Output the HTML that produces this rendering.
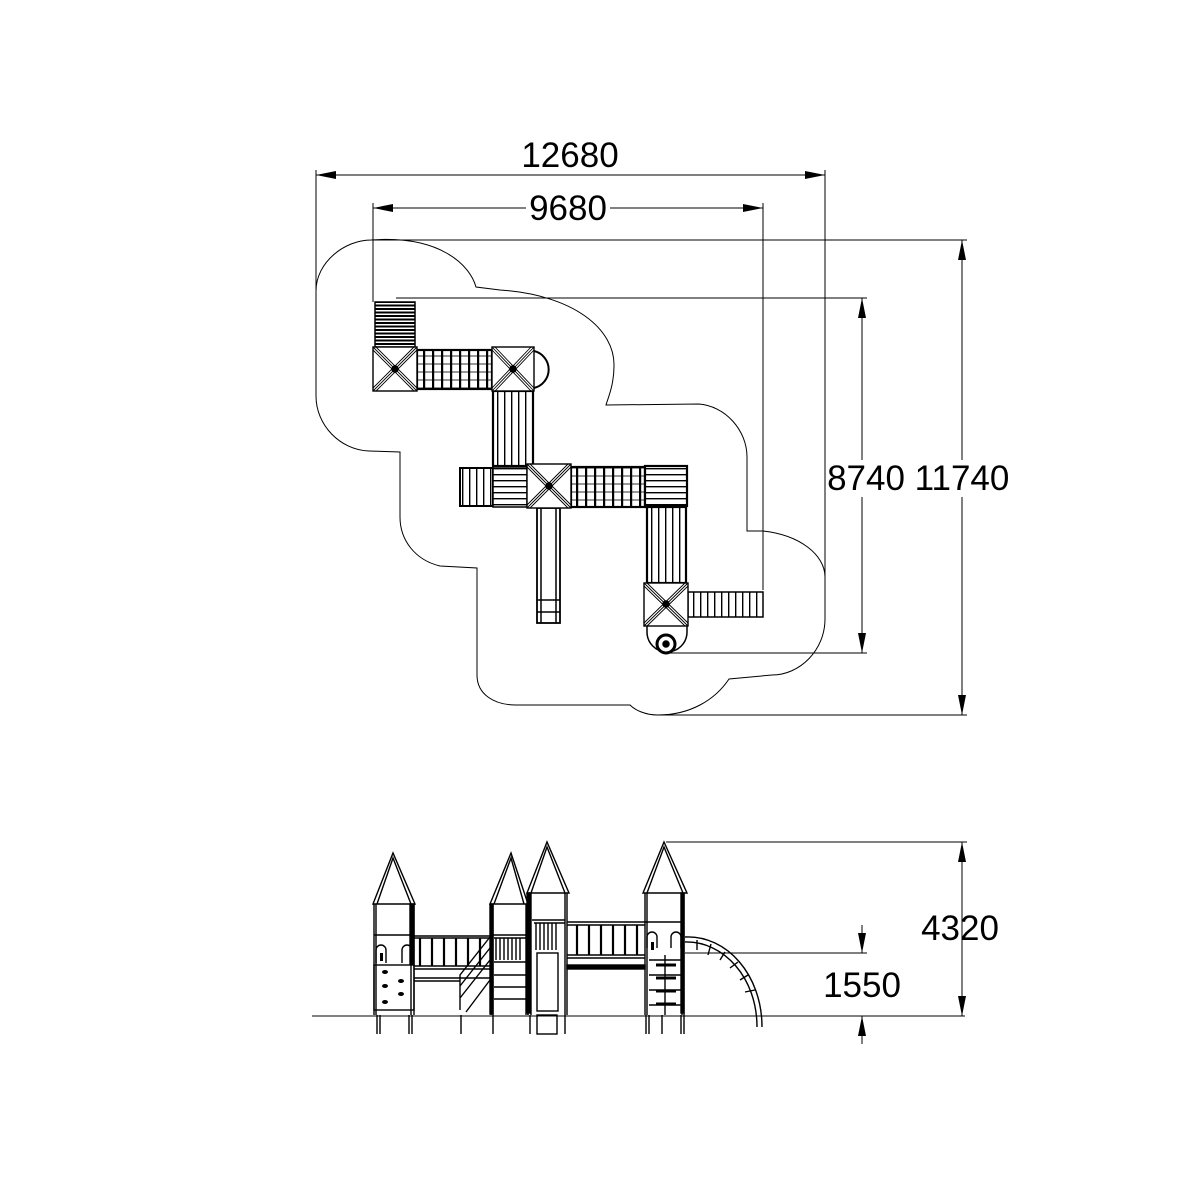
<!DOCTYPE html>
<html><head><meta charset="utf-8"><style>
html,body{margin:0;padding:0;background:#fff;}
svg{display:block;}
text{font-family:"Liberation Sans",sans-serif;font-size:35px;fill:#000;}
</style></head><body>
<svg width="1201" height="1201" viewBox="0 0 1201 1201" xmlns="http://www.w3.org/2000/svg">
<defs>
<pattern id="vs" width="7" height="10" patternUnits="userSpaceOnUse"><rect width="7" height="10" fill="#fff"/><line x1="0.7" y1="0" x2="0.7" y2="10" stroke="#000" stroke-width="1.4"/></pattern>
<pattern id="vs2" width="9" height="8" patternUnits="userSpaceOnUse"><rect width="9" height="8" fill="#fff"/><line x1="1" y1="0" x2="1" y2="8" stroke="#000" stroke-width="2.4"/><line x1="0" y1="4" x2="9" y2="4" stroke="#000" stroke-width="0.8"/></pattern>
<pattern id="hs" width="10" height="6" patternUnits="userSpaceOnUse"><rect width="10" height="6" fill="#fff"/><line x1="0" y1="0.7" x2="10" y2="0.7" stroke="#000" stroke-width="1.4"/></pattern>
<pattern id="hs2" width="10" height="3.5" patternUnits="userSpaceOnUse"><rect width="10" height="3.5" fill="#fff"/><line x1="0" y1="1" x2="10" y2="1" stroke="#000" stroke-width="2"/></pattern>
<marker id="ar" viewBox="0 0 20 8" refX="20" refY="4" markerWidth="20" markerHeight="8" markerUnits="userSpaceOnUse" orient="auto-start-reverse"><path d="M0,0 L20,4 L0,8 Z" fill="#000"/></marker>
</defs>
<g fill="none" stroke="#000" stroke-width="1">
<path d="M371,240 C440,235 470,265 476,287 L500,290 C575,295 615,330 614,366 C614,385 608,398 606,405 L699,404 C725,406 747,430 747,457 L747,531 L763,531 C800,535 825,555 825,577 L825,619 C825,650 800,675 772,675 L729,679 C715,700 690,715 658,715 C645,715 635,710 630,705 L516,705 C495,705 477,695 477,675 L477,568 L440,566 C415,560 400,540 400,517 L400,452 L369,451 C340,450 316,425 316,396 L316,291 C316,262 345,240 371,240 Z"/>
<line x1="316" y1="170" x2="316" y2="291"/><line x1="825" y1="170" x2="825" y2="577"/>
<line x1="316" y1="175" x2="825" y2="175" marker-start="url(#ar)" marker-end="url(#ar)"/>
<line x1="373" y1="203" x2="373" y2="302"/><line x1="763" y1="203" x2="763" y2="590"/>
<line x1="373" y1="208" x2="526" y2="208" marker-start="url(#ar)"/><line x1="610" y1="208" x2="763" y2="208" marker-end="url(#ar)"/>
<line x1="396" y1="298" x2="867" y2="298"/><line x1="666" y1="653" x2="867" y2="653"/>
<line x1="862" y1="298" x2="862" y2="460" marker-start="url(#ar)"/><line x1="862" y1="497" x2="862" y2="653" marker-end="url(#ar)"/>
<line x1="371" y1="240" x2="967" y2="240"/><line x1="658" y1="715" x2="967" y2="715"/>
<line x1="962" y1="240" x2="962" y2="460" marker-start="url(#ar)"/><line x1="962" y1="497" x2="962" y2="715" marker-end="url(#ar)"/>
</g>
<text x="570" y="167" text-anchor="middle">12680</text>
<text x="568" y="220" text-anchor="middle">9680</text>
<text x="866" y="490" text-anchor="middle">8740</text>
<text x="962" y="490" text-anchor="middle">11740</text>

<g stroke="#000" stroke-width="1.5">
<rect x="375" y="302" width="40" height="45" fill="url(#hs2)"/>
<rect x="417" y="350" width="75" height="39" fill="url(#vs2)" stroke-width="2.2"/>
<rect x="493" y="391" width="40" height="75" fill="url(#vs)" stroke-width="2.2"/>
<rect x="460" y="468" width="33" height="38" fill="url(#vs)" stroke-width="2"/>
<rect x="493" y="467" width="34" height="40" fill="url(#hs)"/>
<rect x="571" y="467" width="74" height="40" fill="url(#vs2)" stroke-width="2.2"/>
<rect x="645" y="466" width="42" height="40" fill="url(#hs)" stroke-width="2.2"/>
<rect x="647" y="507" width="39" height="76" fill="url(#vs)" stroke-width="2.2"/>
<rect x="537" y="508" width="23" height="115" fill="#fff" stroke-width="1.8"/>
<line x1="541" y1="508" x2="541" y2="623"/><line x1="556" y1="508" x2="556" y2="623"/>
<line x1="537" y1="600" x2="560" y2="600"/><line x1="537" y1="612" x2="560" y2="612"/>
<rect x="688" y="592" width="75" height="25" fill="url(#vs)"/>
<path d="M534,351 A19,19 0 0 1 534,388" fill="none" stroke-width="2"/>
<path d="M647,626 L647,632 A20,20 0 0 0 687,632 L687,626" fill="#fff"/>
<circle cx="666" cy="644" r="9" fill="#fff" stroke-width="3"/>
<circle cx="666" cy="644" r="3" fill="#000"/>
</g>
<g stroke="#000" stroke-width="1.4" fill="#fff">
<g><rect x="373" y="347" width="44" height="44"/><path d="M373,347 L417,391 M417,347 L373,391 M376,347 L417,388 M373,350 L414,391 M414,347 L373,388 M417,350 L376,391" fill="none" stroke-width="0.9"/><circle cx="395" cy="369" r="3" fill="#000"/></g>
<g><rect x="492" y="347" width="42" height="44"/><path d="M492,347 L534,391 M534,347 L492,391 M495,347 L534,388 M492,350 L531,391 M531,347 L492,388 M534,350 L495,391" fill="none" stroke-width="0.9"/><circle cx="513" cy="369" r="3" fill="#000"/></g>
<g><rect x="527" y="464" width="44" height="44"/><path d="M527,464 L571,508 M571,464 L527,508 M530,464 L571,505 M527,467 L568,508 M568,464 L527,505 M571,467 L530,508" fill="none" stroke-width="0.9"/><circle cx="549" cy="486" r="3" fill="#000"/></g>
<g><rect x="644" y="583" width="44" height="43"/><path d="M644,583 L688,626 M688,583 L644,626 M647,583 L688,623 M644,586 L685,626 M685,583 L644,623 M688,586 L647,626" fill="none" stroke-width="0.9"/><circle cx="666" cy="604" r="3" fill="#000"/></g>
</g>

<g fill="none" stroke="#000" stroke-width="1">
<line x1="312" y1="1016" x2="965" y2="1016"/>
<line x1="666" y1="842" x2="967" y2="842"/>
<line x1="685" y1="953" x2="867" y2="953"/>
<line x1="962" y1="842" x2="962" y2="1016" marker-start="url(#ar)" marker-end="url(#ar)"/>
<line x1="862" y1="925" x2="862" y2="953" marker-end="url(#ar)"/>
<line x1="862" y1="1044" x2="862" y2="1016" marker-end="url(#ar)"/>
</g>
<text x="960" y="940" text-anchor="middle">4320</text>
<text x="862" y="997" text-anchor="middle">1550</text>

<g fill="none" stroke="#000" stroke-width="1.4">
<path d="M373,904 L393,853 L415,904 Z M377,904 L393,858 L411,904"/>
<path d="M490,904 L511,853 L528,904 Z M494,904 L511,858 L524,904"/>
<path d="M527,893 L547,842 L569,893 Z M531,893 L547,847 L565,893"/>
<path d="M643,893 L664,842 L687,893 Z M647,893 L664,847 L683,893"/>
<path d="M374,904 V1015 M376,904 V1015 M411,904 V1015 M414,904 V1015" />
<rect x="410" y="904" width="4" height="60" fill="#000"/>
<path d="M491,904 V1015 M493,904 V1015 M526,904 V1015 M528,904 V1015"/>
<rect x="490" y="904" width="3" height="110" fill="#000"/>
<path d="M528,893 V1015 M531,893 V1015 M565,893 V1015 M567,893 V1015"/>
<rect x="527" y="893" width="3" height="120" fill="#000"/>
<path d="M645,893 V1015 M647,893 V1015 M682,893 V1015 M684,893 V1015"/>
<rect x="681" y="893" width="3" height="120" fill="#000"/>
<path d="M377,1015 V1034 M380,1015 V1034 M409,1015 V1034 M412,1015 V1034 M461,1015 V1034 M493,1015 V1034 M530,1015 V1034 M565,1015 V1034 M646,1015 V1034 M649,1015 V1034 M662,1015 V1034 M681,1015 V1034 M684,1015 V1034"/>
<rect x="537" y="1015" width="20" height="19"/>
<line x1="374" y1="935" x2="414" y2="935"/>
<line x1="491" y1="935" x2="528" y2="935"/>
<line x1="645" y1="922" x2="684" y2="922"/>
<rect x="374" y="965" width="40" height="45"/>
<path d="M376,963 V950 A5,5 0 0 1 386,950 V963 M402,963 V950 A5,5 0 0 1 412,950 V963"/>
<path d="M647,948 V937 A5,5 0 0 1 657,937 V948 M671,948 V937 A5,5 0 0 1 681,937 V948"/>
<line x1="414" y1="936" x2="490" y2="936"/><line x1="414" y1="938" x2="490" y2="938"/>
<line x1="414" y1="966" x2="490" y2="966"/><line x1="414" y1="969" x2="490" y2="969"/>
<line x1="414" y1="978" x2="490" y2="978"/><line x1="414" y1="981" x2="460" y2="981"/>
<path d="M420,938 V966 M432,938 V966 M444,938 V966 M456,938 V966 M468,938 V966 M480,938 V966" stroke-width="2.2"/>
<path d="M460,1010 L460,975 L490,937 M466,1012 L490,980 M460,998 L490,960 M460,986 L490,948"/>
<path d="M494,938 H526 M496,938 V960 M500,938 V960 M504,938 V960 M508,938 V960 M512,938 V960 M516,938 V960 M520,938 V960 M494,962 H526"/>
<path d="M494,975 H526 M494,987 H526 M494,999 H526"/>
<path d="M532,920 H565 M534,923 H565 M536,923 V950 M540,923 V950 M544,923 V950 M548,923 V950 M552,923 V950 M556,923 V950"/>
<rect x="537" y="953" width="21" height="58"/>
<line x1="567" y1="922" x2="645" y2="922"/><line x1="567" y1="925" x2="645" y2="925"/>
<line x1="567" y1="955" x2="645" y2="955"/><line x1="567" y1="958" x2="645" y2="958"/>
<rect x="567" y="965" width="78" height="4" fill="#000"/>
<path d="M577,925 V955 M589,925 V955 M601,925 V955 M613,925 V955 M625,925 V955 M637,925 V955" stroke-width="2.2"/>
<path d="M649,960 H681 M649,975 H681 M649,990 H681 M649,1005 H681"/>
<path d="M656,965 H676 M656,978 H676 M656,991 H676 M656,1004 H676" stroke-width="3"/>
<line x1="665" y1="955" x2="665" y2="1015"/>
<path d="M685,937 C727,935 762,975 762,1027"/>
<path d="M685,942 C724,941 757,978 757,1027"/>
<path d="M697,940 L697,950 M711,944 L708,955 M725,952 L720,960 M738,962 L730,968 M748,975 L740,980 M755,990 L745,992"/>
</g>
<g fill="#000">
<ellipse cx="385" cy="972" rx="3" ry="2"/><ellipse cx="401" cy="981" rx="3" ry="2"/><ellipse cx="385" cy="986" rx="3" ry="2"/><ellipse cx="401" cy="994" rx="3" ry="2"/><ellipse cx="385" cy="1002" rx="3" ry="2"/>
<rect x="380" y="953" width="3" height="8"/><rect x="651" y="942" width="3" height="8"/>
</g>
</svg>
</body></html>
